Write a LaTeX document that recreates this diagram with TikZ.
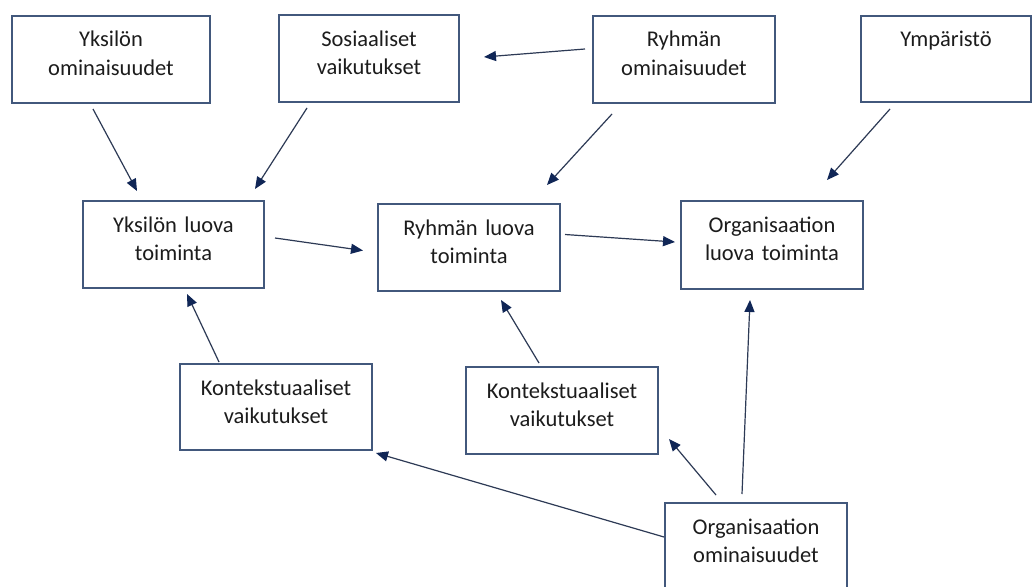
\documentclass[tikz,border=0pt]{standalone}
\usepackage{fontspec}
\setmainfont{Carlito}
\usetikzlibrary{arrows.meta}
\definecolor{boxline}{RGB}{66,88,124}
\definecolor{arrline}{RGB}{45,58,85}
\definecolor{arrhead}{RGB}{16,38,86}
\definecolor{txtcol}{RGB}{28,28,28}
\newcommand\topstr{\rule{0pt}{31pt}}
\newcommand\botstr[1]{\rule[-#1]{0pt}{#1}}
\begin{document}
\begin{tikzpicture}[x=1pt,y=-1pt,
  box/.style={draw=boxline, line width=2pt, anchor=north west, inner sep=0pt,
    align=center, font=\fontsize{22.5pt}{28.5pt}\selectfont, text=txtcol},
  arr/.style={draw=arrline, line width=1.2pt,
    -{Triangle[length=12pt,width=10pt,color=arrhead]}}]
\useasboundingbox (0,0) rectangle (1032,586);
\clip (0,0) rectangle (1032,586);
\fill[white] (0,0) rectangle (1032,586);

\node[box, text width=198pt] (b1) at (11,15) {\topstr Yksilön\\ominaisuudet\botstr{27.5pt}};
\node[box, text width=180pt] (b2) at (278,14) {\topstr Sosiaaliset\\vaikutukset\botstr{27.5pt}};
\node[box, text width=182pt] (b3) at (592,15) {\topstr Ryhmän\\ominaisuudet\botstr{27.5pt}};
\node[box, text width=170pt] (b4) at (860,15) {\topstr Ympäristö\botstr{55pt}};
\node[box, text width=181pt] (b5) at (82,200) {\topstr Yksilön luova\\toiminta\botstr{27.5pt}};
\node[box, text width=182pt] (b6) at (377,203) {\topstr Ryhmän luova\\toiminta\botstr{27.5pt}};
\node[box, text width=182pt] (b7) at (680,200) {\topstr Organisaation\\luova toiminta\botstr{28.5pt}};
\node[box, text width=192pt] (b8) at (465,366) {\topstr Kontekstuaaliset\\vaikutukset\botstr{27.5pt}};
\node[box, text width=182pt] (b9) at (664,502) {\topstr Organisaation\\ominaisuudet\botstr{32pt}};
\node[box, text width=192pt] (b10) at (179,363) {\topstr Kontekstuaaliset\\vaikutukset\botstr{26.5pt}};

\draw[arr] ([shift={(82,5)}]b1.south west) -- ([shift={(55,-9)}]b5.north west);
\draw[arr] ([shift={(29,5)}]b2.south west) -- ([shift={(173,-11)}]b5.north west);
\draw[arr] ([shift={(-7,-10.5)}]b3.west) -- ([shift={(24,-1.5)}]b2.east);
\draw[arr] ([shift={(20,10)}]b3.south west) -- ([shift={(170,-18)}]b6.north west);
\draw[arr] ([shift={(30,6)}]b4.south west) -- ([shift={(147,-20)}]b7.north west);
\draw[arr] ([shift={(10,-6.5)}]b5.east) -- ([shift={(-14,3)}]b6.west);
\draw[arr] ([shift={(4,-13)}]b6.east) -- ([shift={(-5,-3)}]b7.west);
\draw[arr] ([shift={(40,-1)}]b10.north west) -- ([shift={(105,5)}]b5.south west);
\draw[arr] ([shift={(74,-3)}]b8.north west) -- ([shift={(124,8)}]b6.south west);
\draw[arr] ([shift={(0,35)}]b9.north west) -- ([shift={(3,2)}]b10.south east);
\draw[arr] ([shift={(52,-7)}]b9.north west) -- ([shift={(10,-16)}]b8.south east);
\draw[arr] ([shift={(78,-8)}]b9.north west) -- ([shift={(70,10)}]b7.south west);
\end{tikzpicture}
\end{document}
